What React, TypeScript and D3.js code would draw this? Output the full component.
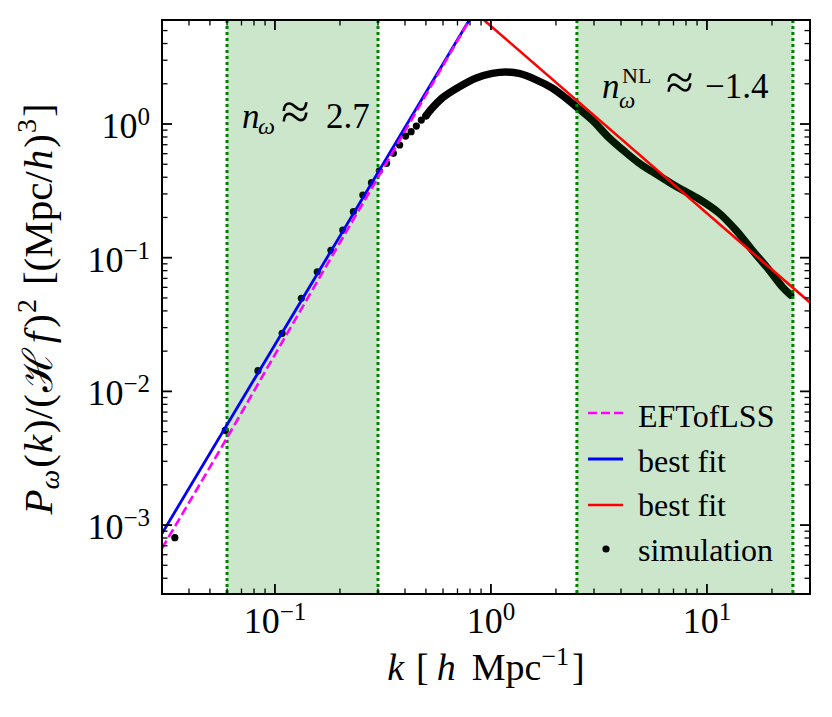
import React from "react";
import * as d3 from "d3";

// ---- data ----
const simSparseK = [0.0344, 0.0589, 0.0834, 0.108, 0.1325, 0.157, 0.1816, 0.206, 0.2307, 0.2552, 0.2797, 0.3043, 0.3288, 0.3534, 0.3779, 0.4025, 0.427, 0.4516, 0.4761, 0.5006, 0.525];
const simSparseP = [8.05e-4, 5.1e-3, 0.01428, 0.0272, 0.0497, 0.0785, 0.1136, 0.161, 0.221, 0.294, 0.364, 0.447, 0.508, 0.604, 0.697, 0.813, 0.876, 0.966, 1.071, 1.154, 1.273];
const simDenseK = [0.5006, 0.525, 0.595, 0.711, 0.85, 1.014, 1.17, 1.348, 1.61, 1.92, 2.22, 2.48, 2.94, 3.52, 4.2, 4.84, 5.58, 6.44, 7.42, 9.18, 11.37, 13.6, 16.2, 19.4, 22.3, 24.4];
const simDenseP = [1.154, 1.273, 1.565, 1.89, 2.2, 2.39, 2.45, 2.39, 2.15, 1.86, 1.565, 1.35, 1.07, 0.79, 0.615, 0.511, 0.44, 0.381, 0.332, 0.275, 0.216, 0.161, 0.114, 0.0809, 0.0607, 0.0526];
const eftK = [0.03, 0.06, 0.1, 0.18, 0.3, 0.5, 0.8, 1.0];
const eftP = [6.7e-4, 4.5e-3, 0.01884, 0.097, 0.399, 1.65, 6.08, 11.2];
const fitLowAmp = 11.2;
const fitLowSlope = 2.7;
const fitHighAmp = 5.4;
const fitHighSlope = -1.4;
const bandLow = [0.06, 0.3];
const bandHigh = [2.5, 25];
const xMajor = [0.1, 1, 10];
const xMajorExp = ["\u22121", "0", "1"];
const yMajor = [1e-3, 1e-2, 1e-1, 1];
const yMajorExp = ["\u22123", "\u22122", "\u22121", "0"];
const legendLabels = ["EFTofLSS", "best fit", "best fit", "simulation"];

const W = 832, H = 717;
const L = 162, R = 810, T = 20, B = 594;
const FONT = "'Liberation Serif', 'Times New Roman', serif";

export default function App() {
  const x = d3.scaleLog().domain([0.03, 30]).range([L, R]);
  const y = d3.scaleLog().domain([3.05e-4, 6.0]).range([B, T]);

  const lineGen = d3.line<[number, number]>().x(d => x(d[0])).y(d => y(d[1]));
  const denseGen = d3.line<[number, number]>().x(d => x(d[0])).y(d => y(d[1])).curve(d3.curveCatmullRom);
  const eftGen = d3.line<[number, number]>().x(d => x(d[0])).y(d => y(d[1])).curve(d3.curveMonotoneX);

  const dense = simDenseK.map((k, i) => [k, simDenseP[i]] as [number, number]);
  const eft = eftK.map((k, i) => [k, eftP[i]] as [number, number]);
  const kEnds = x.domain();
  const fitLow = kEnds.map(k => [k, fitLowAmp * Math.pow(k, fitLowSlope)] as [number, number]);
  const fitHigh = kEnds.map(k => [k, fitHighAmp * Math.pow(k, fitHighSlope)] as [number, number]);

  const xt = x.ticks();
  const yt = y.ticks();
  const isMajor = (v: number) => Math.abs(Math.log10(v) - Math.round(Math.log10(v))) < 1e-6;

  const bands = [bandLow, bandHigh];

  return (
    <svg width={W} height={H} style={{ position: "absolute", left: 0, top: 0, background: "#fff" }} fontFamily={FONT}>
      <defs>
        <clipPath id="plot">
          <rect x={L} y={T} width={R - L} height={B - T} />
        </clipPath>
      </defs>
      <rect x={0} y={0} width={W} height={H} fill="#fff" />
      <g clipPath="url(#plot)">
        {/* simulation */}
        <path d={denseGen(dense) || ""} fill="none" stroke="#000" strokeWidth={7.5} strokeLinecap="round" strokeLinejoin="round" />
        {simSparseK.map((k, i) => (
          <circle key={i} cx={x(k)} cy={y(simSparseP[i])} r={3.6} fill="#000" />
        ))}
        {/* bands */}
        {bands.map((b, i) => (
          <g key={i}>
            <rect x={x(b[0])} y={T} width={x(b[1]) - x(b[0])} height={B - T} fill="green" fillOpacity={0.2} />
            <line x1={x(b[0])} x2={x(b[0])} y1={T} y2={B} stroke="#008000" strokeWidth={3} strokeDasharray="3,3" />
            <line x1={x(b[1])} x2={x(b[1])} y1={T} y2={B} stroke="#008000" strokeWidth={3} strokeDasharray="3,3" />
          </g>
        ))}
        <path d={lineGen(fitLow) || ""} fill="none" stroke="#0000ff" strokeWidth={2.8} />
        <path d={lineGen(fitHigh) || ""} fill="none" stroke="#ff0000" strokeWidth={2.6} />
        <path d={eftGen(eft) || ""} fill="none" stroke="#ff00ff" strokeWidth={2.6} strokeDasharray="9,4" />
      </g>

      {/* ticks */}
      {xt.map((v, i) => {
        const len = isMajor(v) ? 10 : 5.5;
        const sw = isMajor(v) ? 1.8 : 1.3;
        return (
          <g key={"xt" + i}>
            <line x1={x(v)} x2={x(v)} y1={B} y2={B - len} stroke="#000" strokeWidth={sw} />
            <line x1={x(v)} x2={x(v)} y1={T} y2={T + len} stroke="#000" strokeWidth={sw} />
          </g>
        );
      })}
      {yt.map((v, i) => {
        const len = isMajor(v) ? 10 : 5.5;
        const sw = isMajor(v) ? 1.8 : 1.3;
        return (
          <g key={"yt" + i}>
            <line x1={L} x2={L + len} y1={y(v)} y2={y(v)} stroke="#000" strokeWidth={sw} />
            <line x1={R} x2={R - len} y1={y(v)} y2={y(v)} stroke="#000" strokeWidth={sw} />
          </g>
        );
      })}
      <rect x={L} y={T} width={R - L} height={B - T} fill="none" stroke="#000" strokeWidth={2} />

      {/* tick labels */}
      {xMajor.map((v, i) => (
        <text key={"xl" + i} x={x(v)} y={633} fontSize={36} textAnchor="middle">
          10<tspan fontSize={25} dy={-13}>{xMajorExp[i]}</tspan>
        </text>
      ))}
      {yMajor.map((v, i) => (
        <text key={"yl" + i} x={150} y={y(v) + 14} fontSize={36} textAnchor="end">
          10<tspan fontSize={25} dy={-13}>{yMajorExp[i]}</tspan>
        </text>
      ))}

      {/* axis labels */}
      <text x={(L + R) / 2} y={680} fontSize={38} textAnchor="middle">
        <tspan fontStyle="italic">k</tspan>
        <tspan dx={12}>[</tspan>
        <tspan fontStyle="italic" dx={8}>h</tspan>
        <tspan dx={16}>Mpc</tspan>
        <tspan fontSize={26} dy={-15}>{"\u22121"}</tspan>
        <tspan dy={15} dx={3}>]</tspan>
      </text>
      <text transform={`translate(52, ${(T + B) / 2 + 2}) rotate(-90)`} fontSize={41} textAnchor="middle">
        <tspan fontStyle="italic">P</tspan>
        <tspan fontStyle="italic" fontSize={28} dy={7}>{"\u03c9"}</tspan>
        <tspan dy={-7} dx={2}>(</tspan>
        <tspan fontStyle="italic" dx={1}>k</tspan>
        <tspan dx={2}>)/(</tspan>
        <tspan dx={2}>{"\u210b"}</tspan>
        <tspan fontStyle="italic" dx={6}>f</tspan>
        <tspan dx={4}>)</tspan>
        <tspan fontSize={28} dy={-16} dx={1}>2</tspan>
        <tspan dy={16} dx={14}>[(Mpc/</tspan>
        <tspan fontStyle="italic" dx={1}>h</tspan>
        <tspan dx={2}>)</tspan>
        <tspan fontSize={28} dy={-16} dx={1}>3</tspan>
        <tspan dy={16} dx={2}>]</tspan>
      </text>

      {/* annotations */}
      <text x={242} y={128} fontSize={35} fontStyle="italic">n</text>
      <text x={258} y={134} fontSize={24} fontStyle="italic">{"\u03c9"}</text>
      <text x={281} y={129} fontSize={52}>{"\u2248"}</text>
      <text x={326} y={128} fontSize={35}>2.7</text>

      <text x={602} y={98} fontSize={35} fontStyle="italic">n</text>
      <text x={622} y={83} fontSize={22}>NL</text>
      <text x={619} y={108} fontSize={23} fontStyle="italic">{"\u03c9"}</text>
      <text x={666} y={99} fontSize={50}>{"\u2248"}</text>
      <text x={705} y={98} fontSize={35}>{"\u22121.4"}</text>

      {/* legend */}
      {legendLabels.map((lab, i) => {
        const hy = 413 + i * 46;
        const by = 427 + i * 44.5;
        return (
          <g key={"lg" + i}>
            {i === 0 && <line x1={588} x2={623} y1={hy} y2={hy} stroke="#ff00ff" strokeWidth={2.6} strokeDasharray="9,4" />}
            {i === 1 && <line x1={588} x2={623} y1={hy} y2={hy} stroke="#0000ff" strokeWidth={2.8} />}
            {i === 2 && <line x1={588} x2={623} y1={hy} y2={hy} stroke="#ff0000" strokeWidth={2.6} />}
            {i === 3 && <circle cx={606} cy={hy - 2} r={3.6} fill="#000" />}
            <text x={638} y={by} fontSize={32}>{lab}</text>
          </g>
        );
      })}
    </svg>
  );
}
